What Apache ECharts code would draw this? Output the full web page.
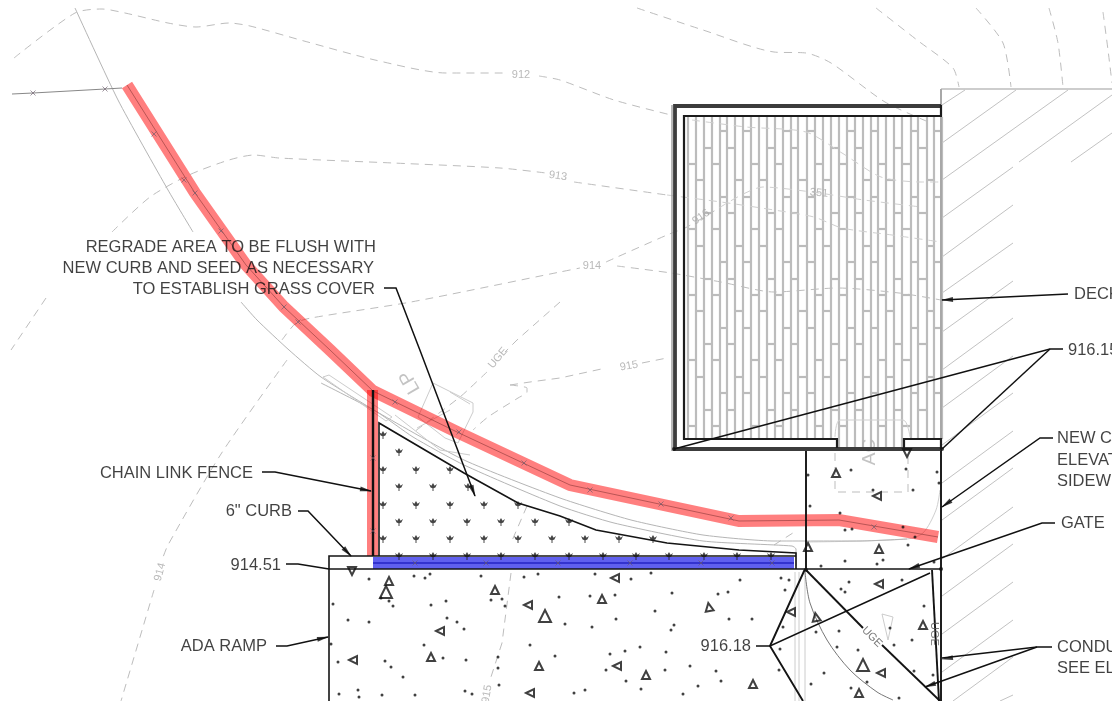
<!DOCTYPE html>
<html><head><meta charset="utf-8">
<style>html,body{margin:0;padding:0;background:#fff;width:1120px;height:706px;overflow:hidden}
#c{position:absolute;left:0;top:0;width:1112px;height:701px;overflow:hidden;filter:blur(0.45px)}</style>
<script src="https://cdn.jsdelivr.net/npm/echarts@6/dist/echarts.min.js"></script>
</head><body><div id="c"></div><script>
// ---- contour lines (plan coordinates)
const contour912=[[14,58],[75,13],[102,9],[125,13],[168,23],[196,27],[229,23],[250,26],[304,41],[375,60],[446,73],[507,73]];
const contour912b=[[539,76],[560,80],[614,100],[671,115]];
const contour912c=[[692,120],[746,127],[806,132],[842,153],[881,177],[921,182],[941,182]];
const contourTop1=[[637,8],[703,30],[774,52],[806,53],[831,63],[885,102],[931,123]];
const contourTop2=[[876,8],[917,40],[953,68],[959,87]];
const contourTop3=[[976,8],[1003,43],[1011,87]];
const contourTop4=[[1049,8],[1058,43],[1063,87]];
const contourTop5=[[1103,12],[1108,50],[1112,83]];
const contour913=[[112,232],[150,197],[189,175],[229,160],[254,155],[279,158],[393,163],[500,168],[546,173]];
const contour913b=[[574,182],[667,195]];
const contour913c=[[667,195],[721,202],[774,210],[814,217],[842,228],[892,235],[941,242]];
const contour913d=[[719,208],[763,187],[819,193],[864,200],[921,207]];
const contour914=[[282,340],[296,323],[311,318],[411,302],[560,272],[580,268]];
const contour914b=[[606,262],[667,235],[687,227],[719,208]];
const contour914c=[[617,266],[671,273],[721,282],[774,292],[838,288],[899,293],[941,300]];
const contourLeftA=[[46,298],[11,350]];
const contourLeftB=[[287,360],[221,454],[168,545],[162,560]];
const contourLeftC=[[154,590],[121,701]];
const contour915a=[[510,385],[530,382],[560,378],[606,368]];
const contour915b=[[642,363],[667,358]];
const contour915c=[[510,385],[527,388],[527,392],[518,398],[488,417],[473,430]];
const contour915d=[[527,506],[511,543]];
const contour915e=[[511,573],[502,643],[490,680]];
const ugeLine1=[[560,302],[517,340],[505,352]];
const ugeLine2=[[487,372],[470,388],[460,397],[414,432]];
const ugeLine3=[[807,542],[907,539],[923,533],[936,510],[940,490]];
const padDash=[[835,453],[835,492],[908,492],[908,453]];
const padArc=[[835,437],[840,420],[903,420],[910,437]];
const roadDash=[[774,545],[796,531]];
// ---- road edges
const roadA=[[75,8],[118,100],[168,190],[193,232]];
const roadB=[[241,302],[257,320],[289,350],[321,377],[379,413],[464,460],[560,498],[631,520],[703,535],[774,541],[860,541],[907,539]];
const roadC=[[321,383],[377,412],[413,437],[464,465],[560,506],[614,523],[703,541],[792,546],[796,549],[796,566]];
const curbFaint=[[323,377],[329,375],[392,417],[386,421],[323,377]];
const lpOutline=[[433,383],[473,403],[473,412],[458,443],[445,438],[418,417],[433,383]];
const lpInner1=[[450,392],[470,404]];
const lpInner2=[[417,428],[450,410]];
const lpInner3=[[395,415],[440,450],[470,455]];
const ramp1=[[795,572],[795,701]];
const ramp2=[[799,572],[799,701]];
const ramp3=[[805,572],[805,701]];
const smallTri=[[882,614],[893,617],[888,640],[882,614]];
const arcGrey=[[805,572],[810,603],[827,640],[850,670],[877,692],[893,700]];
// ---- deck
const deckColumns=[688,696,704,712,720,727,735,743,751,759,767,775,783,791,798,807,815,823,831,839,847,855,863,871,878,886,894,902,911,918,927,934,942];
const deckRungs={A:[131,197,262,328,393],B:[148,213,279,344,410],C:[164,229,295,360,426],D:[180,246,311,377]};
const deckPattern='CDBCABDACDBCABDACDBCABDACDBCABDA';
// ---- hatching right of the deck
const hatchStarts=[[942,105,965,90],[942,143,1016,90],[942,180,1068,90],[942,218,1013,167],[1019,162,1112,95],[942,257,1013,205],[1071,162,1112,133],[942,293,1013,243],[942,332,1013,281],[942,370,1013,318],[942,408,1013,356],[942,445,1013,393],[942,483,1013,431],[942,520,1013,468],[942,559,1013,507],[942,596,1013,544],[942,634,1013,582],[942,672,1013,620],[953,701,1013,657],[1000,701,1013,695]];
// ---- fence run, seed edge, concrete
const fenceLead=[[12,94],[33,93],[105,89],[122,88]];
const fenceRed=[[127,85],[195,193],[246,265],[284,307],[330,350],[373,391],[457,432],[570,485],[739,521],[839,520],[938,537]];
const fenceRedDown=[[372.5,390],[372.5,556]];
const fenceBlue=[[373,563],[794,563]];
const fenceBlack=[[373,390],[373,556]];
const seedEdge=[[379,556],[379,423],[464,473],[518,503],[560,516],[596,530],[667,543],[739,550],[796,553],[796,569]];
const fenceMarks=[[33,93],[105,89],[154,134],[184,180],[195,193],[221,231],[284,307],[298,322],[395,402],[459,432],[524,463],[590,490],[661,504],[731,518],[874,527],[373,458],[373,531],[415,563],[486,563],[558,563],[630,563],[701,563],[772,563]];
const seedMarks=[[383,435],[399,452],[383,470],[416,470],[450,470],[399,487],[433,487],[468,487],[383,505],[416,505],[450,505],[484,505],[518,505],[399,522],[433,522],[467,522],[501,522],[535,522],[569,522],[383,539],[416,539],[450,539],[484,539],[518,539],[552,539],[585,539],[619,539],[653,539],[399,556],[433,556],[467,556],[501,556],[535,556],[569,556],[603,556],[636,556],[669,556],[704,556],[737,556],[771,556]];
const triSmall=[[352,571,180],[389,581,0],[495,590,0],[528,605,90],[440,631,90],[431,657,0],[353,660,90],[539,666,0],[530,693,90],[615,578,90],[602,599,0],[709,607,10],[617,666,90],[646,675,0],[753,684,0],[791,612,90],[816,617,10],[879,584,90],[923,625,0],[881,673,90],[859,693,0],[836,473,0],[877,496,90],[808,547,0],[879,549,0],[907,453,180]];
const triLarge=[[386,592,0],[545,616,0],[863,665,0]];
const concreteDots=[[369,579],[414,576],[425,578],[430,574],[481,576],[524,577],[538,574],[333,604],[381,598],[389,601],[393,606],[431,605],[446,601],[491,600],[502,599],[505,606],[559,597],[348,620],[369,622],[447,618],[457,622],[464,629],[424,645],[530,645],[331,644],[555,656],[338,662],[385,661],[391,667],[466,660],[443,658],[498,657],[498,668],[403,677],[499,685],[339,694],[358,690],[359,697],[382,695],[415,695],[465,691],[472,694],
[595,574],[631,579],[651,573],[740,580],[781,578],[789,580],[785,590],[672,593],[718,594],[728,592],[615,595],[590,596],[655,611],[616,619],[729,619],[752,619],[565,624],[592,627],[674,625],[671,630],[783,627],[625,651],[610,654],[640,647],[666,652],[606,670],[665,670],[690,666],[716,671],[721,681],[698,686],[626,681],[641,689],[574,693],[585,690],[683,694],[779,670],[780,649],
[808,475],[851,470],[906,469],[937,472],[939,483],[873,490],[913,490],[810,506],[840,513],[845,530],[852,529],[903,527],[915,537],[908,545],[845,561],[821,566],[877,564],[883,560],[934,562],[849,582],[841,589],[845,592],[902,580],[924,606],[816,632],[839,631],[858,650],[837,647],[912,640],[890,628],[894,645],[824,673],[811,684],[867,682],[914,671],[851,688],[933,675],[899,698]];
// ---- black linework
const curbTop=[[329,569],[329,556],[796,556]];
const slabLine=[[329,569],[941,569]];
const rampLeft=[[329,569],[329,701]];
const wallBlack=[[941,449],[941,701]];
const padLeft=[[806,449],[806,569]];
const padTop=[[806,449],[941,449]];
const wedgeA=[[805,569],[770,646],[803,701]];
const wedgeB=[[805,569],[863,628]];
const wedgeC=[[882,645],[940,701]];
const wedgeD=[[932,570],[939,701]];
const deckOuter=[[941,106],[675,106],[675,449],[941,449]];
const deckInner=[[941,116],[684,116],[684,439],[837,439],[837,448]];
const deckStub=[[904,448],[904,439],[941,439],[941,449]];
const deckEnd=[[941,105],[941,117]];
// ---- leaders
const leaderRegrade=[[384,288],[396,288],[421,353],[475,496]];
const leaderFence=[[262,472],[275,472],[371,491]];
const leaderCurb=[[298,511],[308,511],[351,556]];
const leaderElev=[[286,564],[298,564],[329,569]];
const leaderRamp=[[276,646],[287,646],[328,637]];
const leaderDeck=[[1068,294],[942,300]];
const leader916a=[[1063,349],[1050,349],[674,449]];
const leader916b=[[1050,349],[942,449]];
const leaderNew=[[1053,438],[1040,438],[942,507]];
const leaderGate=[[1055,523],[1042,523],[909,569]];
const leaderCond1=[[1052,647],[1037,647],[942,658]];
const leaderCond2=[[1037,647],[925,687]];
const leader918a=[[756,646],[770,646],[930,573]];
const arrowHeads=[[942,300,1068,294],[942,507,1040,438],[909,569,1042,523],[942,659,1037,647],[925,687,1037,647],[475,496,421,353],[371,491,275,472],[351,556,308,511],[328,637,287,646]];
const jointDots=[[674,449],[942,449],[806,570],[941,569]];
// ---- text
const noteLabels=[['REGRADE AREA TO BE FLUSH WITH',376,247],['NEW CURB AND SEED AS NECESSARY',374,268],['TO ESTABLISH GRASS COVER',375,289],['CHAIN LINK FENCE',253,473],['6" CURB',292,511],['914.51',281,565],['ADA RAMP',267,646],['916.18',751,646]];
const rightLabels=[['DECK',1074,294],['916.15',1068,350],['NEW C',1057,438],['ELEVAT',1057,460],['SIDEW',1057,481],['GATE',1061,523],['CONDU',1057,647],['SEE EL',1057,668]];
const greyLabels=[['912',521,75,0],['913',558,176,-8],['914',592,266,0],['915',629,366,10],['914',160,572,75],['915',487,694,80],['UGE',498,358,50],['916',701,217,35],['351',819,193,-5]];
const darkLabels=[['UGE',872,637,-45],['UGE',934,634,-90]];
const bigGreyLabels=[['LP',410,382,120],['AC',870,452,90]];

const series=[];
const pl=(pts,color,width,dash,z,extra)=>series.push(Object.assign({type:'line',data:pts,showSymbol:false,symbol:'none',silent:true,z:z||2,animation:false,
  lineStyle:{color,width,type:dash||'solid',cap:'butt',join:'miter'}},extra||{}));
const grey='#bdbdbd',dash=[8,6];
[contour912,contour912b,contourTop1,contourTop2,contourTop3,contourTop4,contourTop5,contour913,contour913b,contour914,contour914b,contour914c,contourLeftB,contourLeftC,contour915c,ugeLine2].forEach(a=>pl(a,grey,1,dash,1,{smooth:0.25}));
[contourLeftA,contour915a,contour915b,contour915d,contour915e,ugeLine1,padDash,roadDash].forEach(a=>pl(a,grey,1,dash,1));
[contour912c,contour913c,contour913d].forEach(a=>pl(a,'#cfcfcf',1,dash,3,{smooth:0.25}));
pl(ugeLine3,'#cfcfcf',1,'solid',2,{smooth:0.3});
pl(padArc,'#cfcfcf',1,'solid',2,{smooth:0.3});
[roadA,roadB,roadC].forEach(a=>pl(a,'#b5b5b5',1,'solid',2,{smooth:0.2}));
[curbFaint,lpOutline,lpInner1,lpInner2,lpInner3,ramp1,ramp2,ramp3,smallTri].forEach(a=>pl(a,'#cccccc',1));
pl(arcGrey,'#777',1,'solid',4,{smooth:0.3});
// deck texture
const deckSegs=[];
deckColumns.forEach(x=>deckSegs.push({coords:[[x,117],[x,(x>837&&x<904)?448:439]]}));
deckPattern.split('').forEach((p,i)=>deckRungs[p].forEach(y=>deckSegs.push({coords:[[deckColumns[i],y],[deckColumns[i+1],y]]})));
series.push({type:'lines',coordinateSystem:'cartesian2d',polyline:true,silent:true,z:2,animation:false,lineStyle:{color:'#bcbcbc',width:2.2,opacity:1},data:deckSegs});
series.push({type:'lines',coordinateSystem:'cartesian2d',polyline:true,silent:true,z:2,animation:false,lineStyle:{color:'#c2c2c2',width:1,opacity:1},
  data:hatchStarts.map(h=>({coords:[[h[0],h[1]],[h[2],h[3]]]}))});
pl([[941,89],[1112,89]],'#bdbdbd',1.5);
pl([[941,89],[941,449]],'#a8a8a8',2);
// coloured runs
pl(fenceRed,'#ff0000',12,'solid',5,{lineStyle:{color:'rgba(255,0,0,0.5)',width:12,join:'miter',cap:'butt'}});
pl(fenceRedDown,'#ff0000',11,'solid',5,{lineStyle:{color:'rgba(255,0,0,0.5)',width:11,cap:'butt'}});
pl(fenceBlue,'#6060ee',12,'solid',5);
pl(fenceRed,'rgba(130,50,50,0.55)',1,'solid',6);
pl(fenceBlue,'#2424c4',1.6,'solid',6);
pl(fenceLead,'#888',1,'solid',6);
// black linework
[curbTop,slabLine,rampLeft,seedEdge].forEach(a=>pl(a,'#141414',1.6,'solid',7));
[wedgeA,wedgeB,wedgeC,wedgeD,padLeft,wallBlack].forEach(a=>pl(a,'#141414',1.9,'solid',7));
pl(padTop,'#141414',2.4,'solid',7);
pl(fenceBlack,'#111',2.4,'solid',7);
pl(deckOuter,'#3c3c3c',3.8,'solid',7);
pl([[672,105],[672,451]],'#9a9a9a',1.4,'solid',7);
pl(deckInner,'#1c1c1c',2.2,'solid',7);
pl(deckStub,'#1c1c1c',2.2,'solid',7);
pl(deckEnd,'#1c1c1c',2.2,'solid',7);
[leaderRegrade,leaderFence,leaderCurb,leaderElev,leaderRamp,leaderDeck,leader916a,leader916b,leaderNew,leaderGate,leaderCond1,leaderCond2,leader918a].forEach(a=>pl(a,'#111',1.5,'solid',8));
// symbols
const scat=(data,symbol,size,style,z,rot)=>series.push({type:'scatter',data,symbol,symbolSize:size,itemStyle:style,silent:true,z:z||9,animation:false,clip:true,symbolRotate:rot});
const xMark='path://M0 0L10 10M10 0L0 10M5 5L5 5Z';
scat(fenceMarks,xMark,5,{color:'none',borderColor:'#6a5a6a',borderWidth:0.8},8);
const seedPath='path://M0 2L3 4L5 1L7 4L10 2L8 6L5.6 7L5.6 10L4.4 10L4.4 7L2 6Z';
scat(seedMarks,seedPath,8,{color:'#161616'},9);
scat(concreteDots,'circle',3,{color:'#111'},9);
scat(jointDots,'circle',4,{color:'#111'},9);
const triStyle={color:'none',borderColor:'#101010',borderWidth:2};
scat(triSmall,'triangle',8,triStyle,9,(v)=>v[2]);
scat(triLarge,'triangle',12,triStyle,9,(v)=>v[2]);
const arrowData=arrowHeads.map(a=>{const dx=a[0]-a[2],dy=a[1]-a[3],l=Math.hypot(dx,dy);
  return [a[0]-dx/l*5,a[1]-dy/l*5,Math.atan2(-dx,-dy)*180/Math.PI];});
scat(arrowData,'triangle',[5,12],{color:'#0c0c0c'},9,(v)=>v[2]);
// text
const lab=(rows,align,color,size,rotIdx,z)=>series.push({type:'scatter',symbol:'circle',symbolSize:0.01,silent:true,z:z||10,animation:false,clip:false,
  data:rows.map(r=>({value:[r[1],r[2]],label:{show:true,position:'inside',formatter:r[0],align,verticalAlign:'middle',color,fontSize:size,fontFamily:'"Liberation Sans",Arial,sans-serif',rotate:rotIdx?r[3]:0}}))});
lab(noteLabels,'right','#111',16.5);
lab(rightLabels,'left','#111',16.5);
lab(greyLabels,'center','#a8a8a8',11,true,3);
lab(darkLabels,'center','#555',11,true,9);
lab(bigGreyLabels,'center','#b4b4b4',19,true,3);

const chart=echarts.init(document.getElementById('c'),null,{renderer:'canvas',width:1112,height:701});
chart.setOption({animation:false,backgroundColor:'#fff',
  grid:{left:0,right:0,top:0,bottom:0},
  xAxis:{type:'value',min:0,max:1112,show:false},
  yAxis:{type:'value',min:0,max:701,inverse:true,show:false},
  series});
</script></body></html>
